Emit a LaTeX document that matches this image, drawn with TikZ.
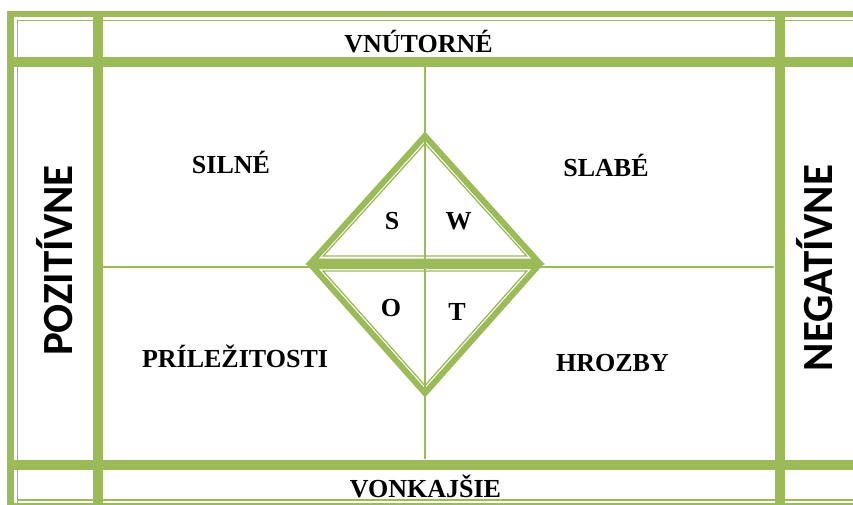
\documentclass[tikz,border=0pt]{standalone}
\usepackage{fontspec}
\setmainfont{Liberation Serif}
\newfontfamily\sidefont{Carlito}
\usetikzlibrary{positioning}
\definecolor{swotgreen}{HTML}{9BBB59}

\begin{document}
\begin{tikzpicture}[
  x=1pt, y=-1pt,
  bar/.style={draw=swotgreen, line width=10pt},
  rim/.style={draw=swotgreen, line width=6.5pt},
  hair/.style={draw=swotgreen, line width=1.4pt},
  axis/.style={draw=swotgreen, line width=1.6pt},
  tri/.style={draw=swotgreen, line width=6pt, line join=miter, miter limit=10},
  tin/.style={draw=swotgreen, line width=1.3pt, line join=miter, miter limit=10},
  lbl/.style={font=\fontsize{26}{28}\selectfont\bfseries, inner sep=0pt, anchor=base},
  side/.style={font=\fontsize{43}{46}\selectfont\sidefont\bfseries, inner sep=0pt,
               rotate=90, anchor=base}
]
\useasboundingbox[fill=white] (0,0) rectangle (853,505);

% table frame
\draw[axis] (425,67) -- (425,459);
\draw[axis] (103,267) -- (774,267);
\draw[hair] (17.5,20.5) -- (853,20.5);
\draw[hair] (17.5,20.5) -- (17.5,505);
\draw[hair] (17.5,500) -- (853,500);
\draw[rim] (7,14) -- (853,14);
\draw[rim] (10.5,11) -- (10.5,505);
\draw[rim] (7,506) -- (853,506);
\draw[bar] (98,11) -- (98,505);
\draw[bar] (779.5,11) -- (779.5,505);
\draw[bar] (7,62) -- (853,62);
\draw[bar] (7,464.5) -- (853,464.5);

% diamond
\coordinate (st) at (425,136);
\coordinate (sl) at (312,261.5);
\coordinate (sr) at (538,261.5);
\coordinate (ol) at (312,266);
\coordinate (or) at (538,266);
\coordinate (ob) at (425,393);
\draw[tri] (st) -- (sl) -- (sr) -- cycle;
\draw[tri] (ol) -- (or) -- (ob) -- cycle;
\draw[tin] (425,143.5) -- (323.3,256) -- (526.7,256) -- cycle;
\draw[tin] (323.1,271) -- (526.9,271) -- (425,385.5) -- cycle;

\node[lbl] (inner)   at (418.5,53)  {VNÚTORNÉ};
\node[lbl] (outer)   at (425.5,497) {VONKAJŠIE};
\node[lbl] (strong)  at (231,174)   {SILNÉ};
\node[lbl] (weak)    at (606,176)   {SLABÉ};
\node[lbl] (chance)  at (235,367)   {PRÍLEŽITOSTI};
\node[lbl] (threat)  at (612.5,371) {HROZBY};
\node[lbl] (s)       at (392,229)   {S};
\node[lbl] (w)       at (458.5,229) {W};
\node[lbl] (o)       at (391,316.5) {O};
\node[lbl] (t)       at (457,320)   {T};
\node[side] (pos)    at (72,260.5)  {POZITÍVNE};
\node[side] (neg)    at (832,268)   {NEGATÍVNE};
\end{tikzpicture}
\end{document}
